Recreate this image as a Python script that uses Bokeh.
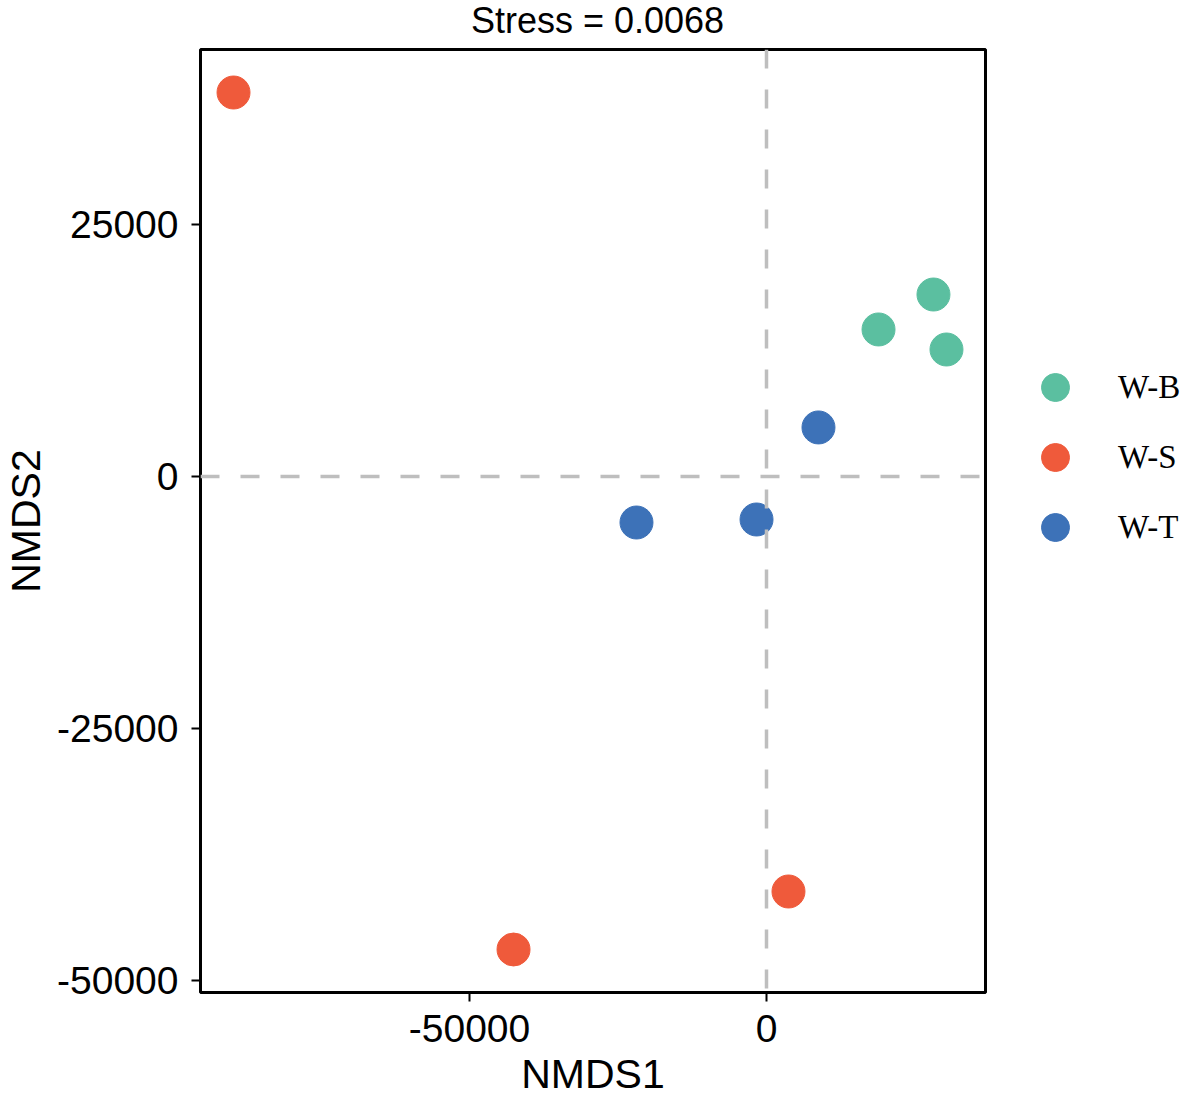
from bokeh.plotting import figure
from bokeh.models import (Range1d, FixedTicker, PrintfTickFormatter, Span, Label,
                          Legend, LegendItem, ColumnDataSource)
from bokeh.layouts import row, column
from bokeh.embed import file_html
from bokeh.resources import INLINE

# ---- data ----
groups = ["W-B", "W-S", "W-T"]
colors = ["#5BBFA0", "#EF5A3B", "#3D72B8"]
wb_x = [28110, 18860, 30300]
wb_y = [18070, 14600, 12610]
ws_x = [-89730, -42590, 3700]
ws_y = [38130, -46970, -41210]
wt_x = [8750, -21890, -1680]
wt_y = [4870, -4570, -4270]
x_ticks = [-50000, 0]
y_ticks = [25000, 0, -25000, -50000]
title_text = "Stress = 0.0068"
x_label = "NMDS1"
y_label = "NMDS2"

TOTAL_W, TOTAL_H = 1181, 1099
TITLE_H = 45
MAIN_W = 987
LEG_W = TOTAL_W - MAIN_W
BODY_H = TOTAL_H - TITLE_H


def bare(fig):
    fig.outline_line_color = None
    fig.background_fill_color = "white"
    fig.border_fill_color = "white"
    fig.grid.visible = False
    return fig


# ---- title strip ----
pt = bare(figure(width=TOTAL_W, height=TITLE_H, output_backend="svg", title=None,
                 toolbar_location=None, x_axis_location=None, y_axis_location=None,
                 x_range=Range1d(0, TOTAL_W), y_range=Range1d(0, TITLE_H),
                 min_border=0))
pt.add_layout(Label(x=597, y=25, text=title_text, text_align="center",
                    text_baseline="alphabetic", text_font="Liberation Sans",
                    text_font_size="36px", text_color="black"))

# ---- main plot ----
p = figure(width=MAIN_W, height=BODY_H, output_backend="svg", toolbar_location=None,
           x_range=Range1d(-95290, 36870), y_range=Range1d(-51240, 42400),
           min_border_left=200, min_border_right=2, min_border_top=4,
           min_border_bottom=107)
p.title.visible = False
p.background_fill_color = "white"
p.border_fill_color = "white"
p.outline_line_color = "black"
p.outline_line_width = 3
p.xgrid.visible = False
p.ygrid.visible = False

for ax, ticks, lab in [(p.xaxis[0], x_ticks, x_label), (p.yaxis[0], y_ticks, y_label)]:
    ax.ticker = FixedTicker(ticks=ticks)
    ax.formatter = PrintfTickFormatter(format="%d")
    ax.axis_line_color = None
    ax.major_tick_line_color = "black"
    ax.major_tick_line_width = 2
    ax.major_tick_out = 9
    ax.major_tick_in = 0
    ax.minor_tick_line_color = None
    ax.major_label_text_font = "Liberation Sans"
    ax.major_label_text_font_size = "39px"
    ax.major_label_text_color = "black"
    ax.axis_label = lab
    ax.axis_label_text_font = "Liberation Sans"
    ax.axis_label_text_font_size = "41px"
    ax.axis_label_text_font_style = "normal"
    ax.axis_label_text_color = "black"

p.xaxis[0].major_label_standoff = 13
p.xaxis[0].axis_label_standoff = 6
p.yaxis[0].major_label_standoff = 13
p.yaxis[0].axis_label_standoff = 5

group_data = [(wb_x, wb_y), (ws_x, ws_y), (wt_x, wt_y)]
for (xs, ys), c in zip(group_data, colors):
    src = ColumnDataSource(dict(x=xs, y=ys))
    p.scatter("x", "y", source=src, size=33, marker="circle",
              fill_color=c, line_color=c)

p.add_layout(Span(location=0, dimension="width", line_color="#BEBEBE",
                  line_width=3.5, line_dash="19 21"))
p.add_layout(Span(location=0, dimension="height", line_color="#BEBEBE",
                  line_width=3.5, line_dash="19 21"))

# ---- legend strip (its frame is aligned with the main frame) ----
pl = bare(figure(width=LEG_W, height=BODY_H, output_backend="svg",
                 toolbar_location=None, x_axis_location=None, y_axis_location=None,
                 x_range=Range1d(0, 1), y_range=Range1d(0, 1), min_border=0))
leg_renderers = []
for (xs, ys), c in zip(group_data, colors):
    src = ColumnDataSource(dict(x=xs, y=ys))
    leg_renderers.append(pl.scatter("x", "y", source=src, size=28, marker="circle",
                                    fill_color=c, line_color=c))
legend = Legend(items=[LegendItem(label=g, renderers=[r])
                       for g, r in zip(groups, leg_renderers)],
                location=(32, 430), orientation="vertical",
                glyph_width=72, glyph_height=70, label_standoff=27,
                spacing=0, padding=0, margin=0,
                label_text_font="Liberation Serif", label_text_font_size="33px",
                label_text_color="black", border_line_color=None,
                background_fill_alpha=0)
pl.add_layout(legend, "center")

layout = column(pt, row(p, pl, spacing=0), spacing=0)
open("out.html", "w").write(file_html(layout, INLINE))
